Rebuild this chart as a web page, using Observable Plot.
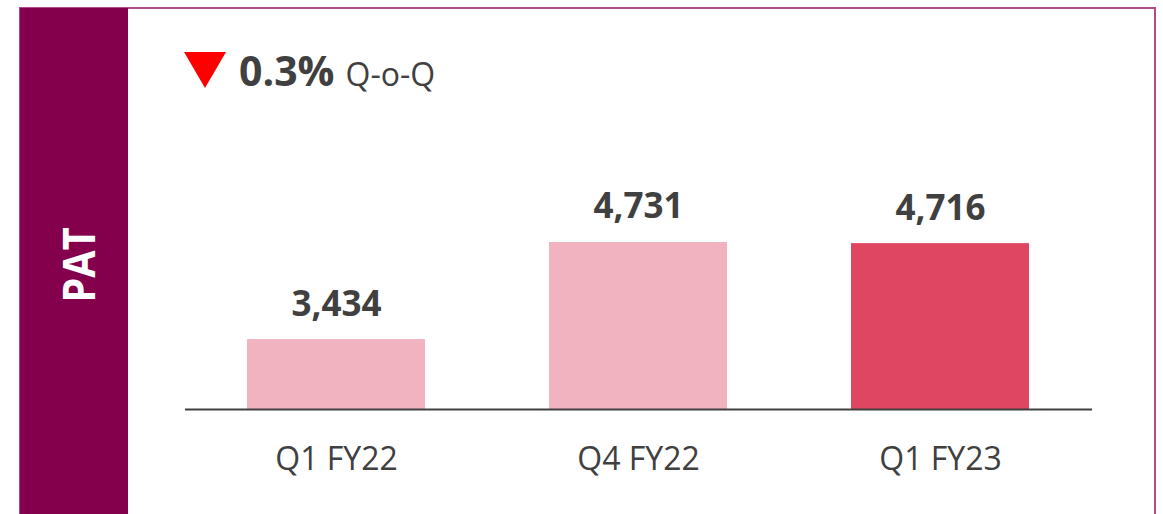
<!DOCTYPE html>
<html>
<head>
<meta charset="utf-8">
<script src="https://cdn.jsdelivr.net/npm/d3@7"></script>
<script src="https://cdn.jsdelivr.net/npm/@observablehq/plot@0.6"></script>
<style>
  html, body { margin: 0; padding: 0; background: #fff; }
  #wrap { position: relative; width: 1163px; height: 514px; overflow: hidden; background: #fff; font-family: "Open Sans", sans-serif; }
  #frame { position: absolute; left: 19px; top: 7px; width: 1133px; height: 600px; border: 2px solid #AE4C8F; box-sizing: content-box; }
  #side { position: absolute; left: 20px; top: 8px; width: 108px; height: 506px; background: #84004C; }
  #pat { position: absolute; left: 78px; top: 265px; transform: translate(-50%, -50%) rotate(-90deg) scaleX(0.9); color: #fff; font-weight: 700; font-size: 44px; line-height: 1; white-space: nowrap; }
  #tri { position: absolute; left: 184px; top: 52px; width: 0; height: 0; border-left: 21px solid transparent; border-right: 21px solid transparent; border-top: 36px solid #FF0000; }
  #head { position: absolute; left: 239px; top: 50px; color: #404040; white-space: nowrap; line-height: 1; }
  #head .big { font-weight: 700; font-size: 41px; }
  #head .small { font-size: 32px; margin-left: 11px; }
  #chart { position: absolute; left: 0; top: 0; }
</style>
</head>
<body>
<div id="wrap">
  <div id="frame"></div>
  <div id="side"></div>
  <div id="pat">PAT</div>
  <div id="tri"></div>
  <div id="head"><span class="big" id="chg"></span><span class="small" id="chgLabel"></span></div>
  <div id="chart"></div>
</div>
<script>
const categories = ["Q1 FY22", "Q4 FY22", "Q1 FY23"];
const values = [3434, 4731, 4716];
const changeText = "0.3%";
const changeLabel = "Q-o-Q";
const barColors = ["#F1B3BF", "#F1B3BF", "#DE4661"];

document.getElementById("chg").textContent = changeText;
document.getElementById("chgLabel").textContent = changeLabel;

const data = categories.map((c, i) => ({category: c, value: values[i]}));

const chart = Plot.plot({
  width: 1163,
  height: 514,
  marginLeft: 185,
  marginRight: 71,
  marginTop: 147,
  marginBottom: 105,
  style: {fontFamily: "'Open Sans', sans-serif", color: "#404040", background: "transparent"},
  x: {domain: categories, paddingInner: 0.41, paddingOuter: 0.205, axis: null},
  y: {domain: [2500, 6000], axis: null},
  color: {domain: categories, range: barColors},
  marks: [
    Plot.barY(data, {x: "category", y1: 2500, y2: "value", fill: "category"}),
    Plot.ruleY([2500], {stroke: "#404040", strokeWidth: 2}),
    Plot.text(data, {x: "category", y: "value", text: d => d3.format(",")(d.value), lineAnchor: "bottom", dy: -24, fontSize: 35, fontWeight: 700, fill: "#404040"}),
    Plot.axisX({tickSize: 0, tickPadding: 38, fontSize: 32, fill: "#404040", label: null})
  ]
});
document.getElementById("chart").appendChild(chart);
</script>
</body>
</html>
